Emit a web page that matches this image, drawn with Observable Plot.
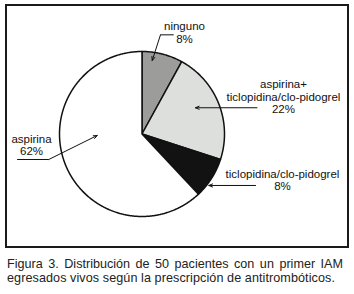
<!DOCTYPE html>
<html>
<head>
<meta charset="utf-8">
<script src="https://cdn.jsdelivr.net/npm/d3@7"></script>
<script src="https://cdn.jsdelivr.net/npm/@observablehq/plot@0.6"></script>
<style>
  body { margin: 0; background: #fff; }
  #fig { position: relative; width: 354px; height: 294px; font-family: "Liberation Sans", Arial, sans-serif; }
  #chart { position: absolute; left: 0; top: 0; }
  #box { position: absolute; left: 5px; top: 4px; width: 340px; height: 240px; border: 2px solid #1a1a1a; pointer-events: none; }
  #caption { position: absolute; left: 7px; top: 258px; width: 336px; font-size: 12.6px; line-height: 13.6px; color: #222; }
  #caption .l1 { text-align: justify; text-align-last: justify; }
  #caption .l2 { letter-spacing: 0.08px; }
</style>
</head>
<body>
<div id="fig">
  <div id="chart"></div>
  <div id="box"></div>
  <div id="caption">
    <div class="l1">Figura 3. Distribución de 50 pacientes con un primer IAM</div>
    <div class="l2">egresados vivos según la prescripción de antitrombóticos.</div>
  </div>
</div>
<script>
// Antithrombotic prescription at discharge (share of 50 patients), clockwise from 12 o'clock
const categories = ["ninguno", "aspirina+\nticlopidina/clo-pidogrel", "ticlopidina/clo-pidogrel", "aspirina"];
const percents = [8, 22, 8, 62];
const fills = ["#9c9d9a", "#dcdfdc", "#121212", "#ffffff"];

// Label placement, in units of the pie radius (last line's baseline)
const labelAt = [
  {x: 0.515, y: 1.109},
  {x: 1.715, y: 0.257},
  {x: 1.703, y: -0.676},
  {x: -1.339, y: -0.252}
];
// Leader segments without heads, and arrows pointing into the slices
const plainSegs = [
  {x1: 0.385, y1: 1.202, x2: 0.224, y2: 1.202},
  {x1: -1.513, y1: -0.309, x2: -1.130, y2: -0.309}
];
const arrowSegs = [
  {x1: 0.224, y1: 1.202, x2: 0.124, y2: 0.891},
  {x1: 1.394, y1: 0.318, x2: 0.648, y2: 0.318},
  {x1: 1.376, y1: -0.624, x2: 0.810, y2: -0.624},
  {x1: -1.130, y1: -0.309, x2: -0.543, y2: -0.018}
];

const rows = categories.map((c, i) => ({category: c, value: percents[i]}));
const arcs = d3.pie().sort(null).value(d => d.value)(rows);

// Each slice as a closed outline: centre, arc, centre
const step = Math.PI / 360;
const slicePts = arcs.flatMap(a => {
  const c = a.data.category;
  const n = Math.max(2, Math.ceil((a.endAngle - a.startAngle) / step));
  const pts = [{category: c, x: 0, y: 0}];
  for (let k = 0; k <= n; k++) {
    const t = a.startAngle + (a.endAngle - a.startAngle) * k / n;
    pts.push({category: c, x: Math.sin(t), y: Math.cos(t)});
  }
  pts.push({category: c, x: 0, y: 0});
  return pts;
});

const labels = rows.map((r, i) => ({
  text: `${r.category}\n${r.value}%`,
  x: labelAt[i].x,
  y: labelAt[i].y
}));

const chart = Plot.plot({
  width: 354,
  height: 252,
  marginLeft: 59,
  marginRight: 130,
  marginTop: 51,
  marginBottom: 36,
  x: {domain: [-1, 1], axis: null},
  y: {domain: [-1, 1], axis: null},
  color: {domain: categories, range: fills},
  style: {background: "transparent", fontFamily: "'Liberation Sans', Arial, sans-serif", color: "#111"},
  marks: [
    Plot.line(slicePts, {x: "x", y: "y", z: "category", fill: "category", stroke: "#111", strokeWidth: 1.5, strokeLinejoin: "round", curve: "linear"}),
    Plot.link(plainSegs, {x1: "x1", y1: "y1", x2: "x2", y2: "y2", stroke: "#111", strokeWidth: 1}),
    Plot.arrow(arrowSegs, {x1: "x1", y1: "y1", x2: "x2", y2: "y2", stroke: "#111", strokeWidth: 1, headLength: 6, headAngle: 45, inset: 0}),
    Plot.text(labels, {x: "x", y: "y", text: "text", fontSize: 11.5, lineAnchor: "bottom", lineHeight: 1.06, fill: "#111"})
  ]
});
document.getElementById("chart").appendChild(chart);
</script>
</body>
</html>
